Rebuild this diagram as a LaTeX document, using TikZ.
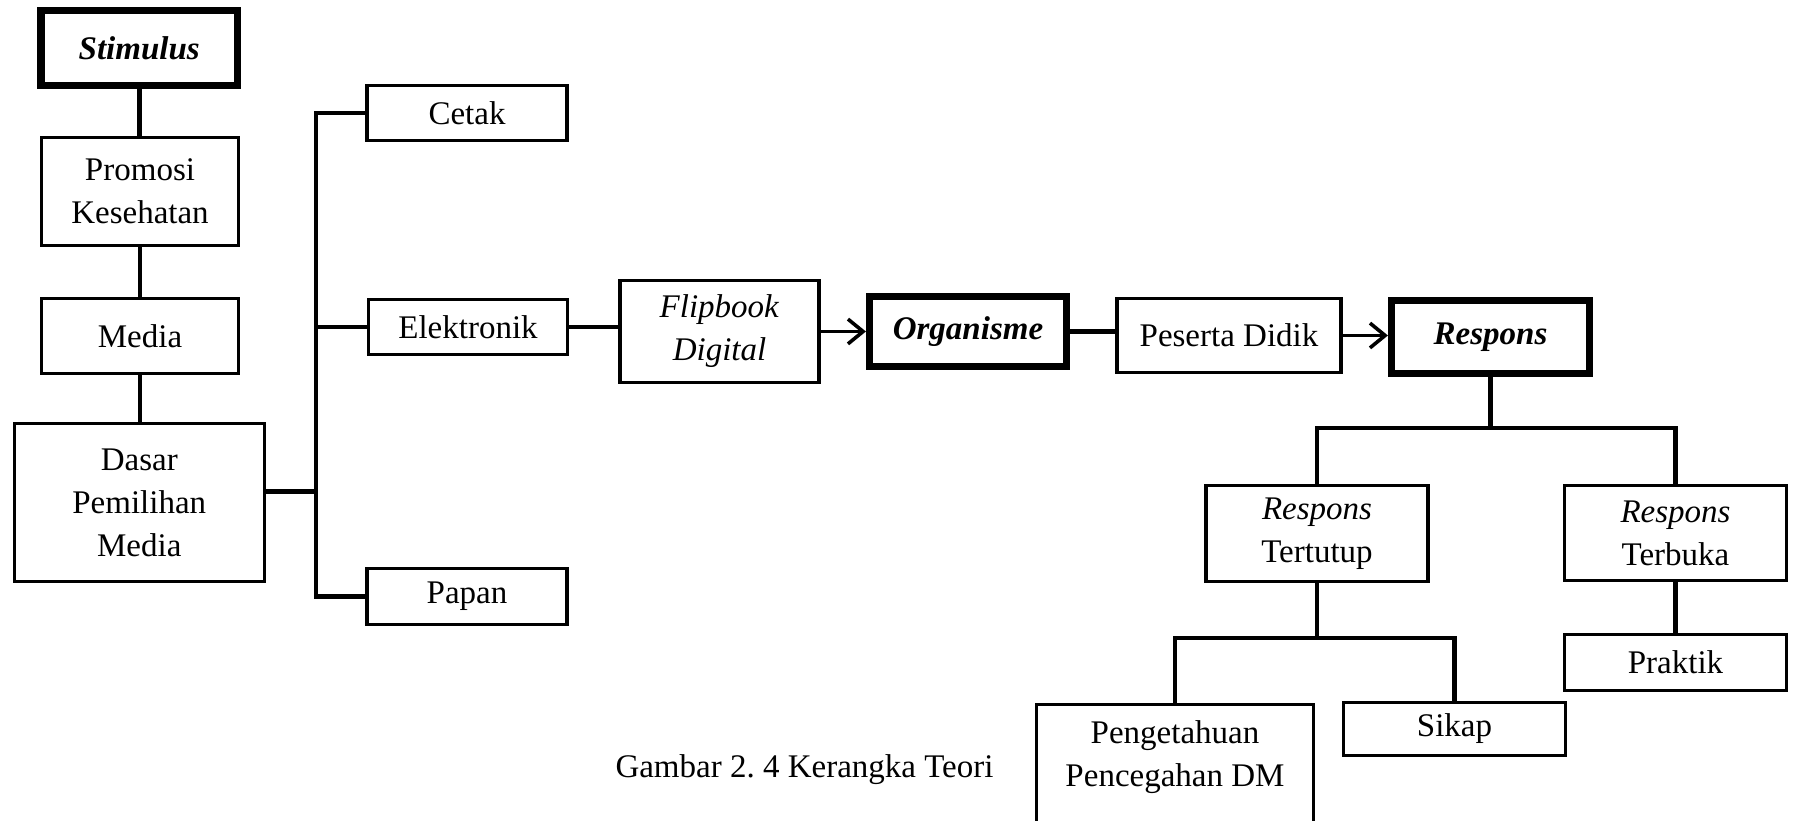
\documentclass[tikz,border=0pt]{standalone}
\usepackage{fontspec}
\setmainfont{Liberation Serif}
\usepackage{tikz}
\usetikzlibrary{arrows.meta,positioning,calc}
\frenchspacing
\def\pxu{0.3636pt}
\tikzset{
  base/.style={font=\fontsize{12}{15.6}\selectfont, align=center, inner sep=2pt, text=black},
  box/.style={base, rectangle, draw=black, fill=white, line width=1.3pt},
  keybox/.style={box, line width=2.6pt, font=\fontsize{12}{15.6}\selectfont\bfseries\itshape},
  wh/.style 2 args={minimum width=#1*\pxu, minimum height=#2*\pxu},
  conn/.style={line width=1.8pt, draw=black},
  arr/.style={-{Straight Barb[length=5.5pt,width=9pt,line width=1.3pt]}, line width=1.3pt, draw=black},
}

\begin{document}
\begin{tikzpicture}[x=\pxu, y=-\pxu]
  \useasboundingbox (0,0) rectangle (1797,821);
  % stimulus column
  \node[keybox,wh={196.5}{75}] (stim)  at (139.25,48)  {Stimulus};
  \node[box,wh={197}{108}]     (promo) at (140,191.5)  {Promosi\\Kesehatan};
  \node[box,wh={197}{75}]      (media) at (140,336)    {Media};
  \node[box,wh={250}{158}]     (dasar) at (139.3,502.5) {Dasar\\Pemilihan\\Media};
  % media types
  \node[box,wh={199.5}{55}] (cetak) at (467,113)   {Cetak};
  \node[box,wh={199}{55}]   (elek)  at (468,327)   {Elektronik};
  \node[box,wh={199.5}{56}] (papan) at (467,596.5) {Papan};
  \coordinate (bus) at (316,0);
  % organism / response chain
  \node[box,wh={199}{102}]  (flip) at (719.5,331.5) {\textit{Flipbook}\\\textit{Digital}};
  \node[keybox,wh={197}{70}] (org) at (968,331.5)   {Organisme};
  \node[box,wh={224.5}{74}] (pes)  at (1229,335.5)  {Peserta Didik};
  \node[keybox,wh={198}{73}] (resp) at (1490.5,337) {Respons};
  % response branches
  \coordinate (rbar) at (0,428);
  \node[box,wh={222}{96}]  (tutup)   at (1317,533.5)   {\textit{Respons}\\Tertutup};
  \node[box,wh={222}{95}]  (buka)    at (1675.5,533)   {\textit{Respons}\\Terbuka};
  \node[box,wh={222}{56}]  (praktik) at (1675.5,662.5) {Praktik};
  \coordinate (tbar) at (0,638);
  \node[box,wh={277}{200},anchor=north] (peng) at (1175,702.5) {};
  \node[base] (pengtxt) at (1175,757) {Pengetahuan\\Pencegahan DM};
  \node[box,wh={222}{53}]  (sikap)   at (1454.5,729)   {Sikap};
  \node[base] (caption) at (804.5,769.5) {Gambar 2. 4 Kerangka Teori};
  % connectors
  \draw[conn] (stim.south) -- (stim.south |- promo.north);
  \draw[conn] (promo.south) -- (promo.south |- media.north);
  \draw[conn] (media.south) -- (media.south |- dasar.north);
  \draw[conn] (cetak.west) -| (bus |- papan.west) -- (papan.west);
  \draw[conn] (elek.west) -- (elek.west -| bus);
  \draw[conn] ([yshift=4pt]dasar.east) -- ([yshift=4pt]dasar.east -| bus);
  \draw[conn] (elek.east) -- (elek.east -| flip.west);
  \draw[arr] (flip.east) -- (flip.east -| org.west);
  \draw[conn] (org.east) -- (org.east -| pes.west);
  \draw[arr] (pes.east) -- (pes.east -| resp.west);
  \draw[conn] (resp.south) -- (resp.south |- rbar);
  \draw[conn] (tutup.north) -- (tutup.north |- rbar) -- (buka.north |- rbar) -- (buka.north);
  \draw[conn] (buka.south) -- (buka.south |- praktik.north);
  \draw[conn] (tutup.south) -- (tutup.south |- tbar);
  \draw[conn] (peng.north) -- (peng.north |- tbar) -- (sikap.north |- tbar) -- (sikap.north);
\end{tikzpicture}
\end{document}
